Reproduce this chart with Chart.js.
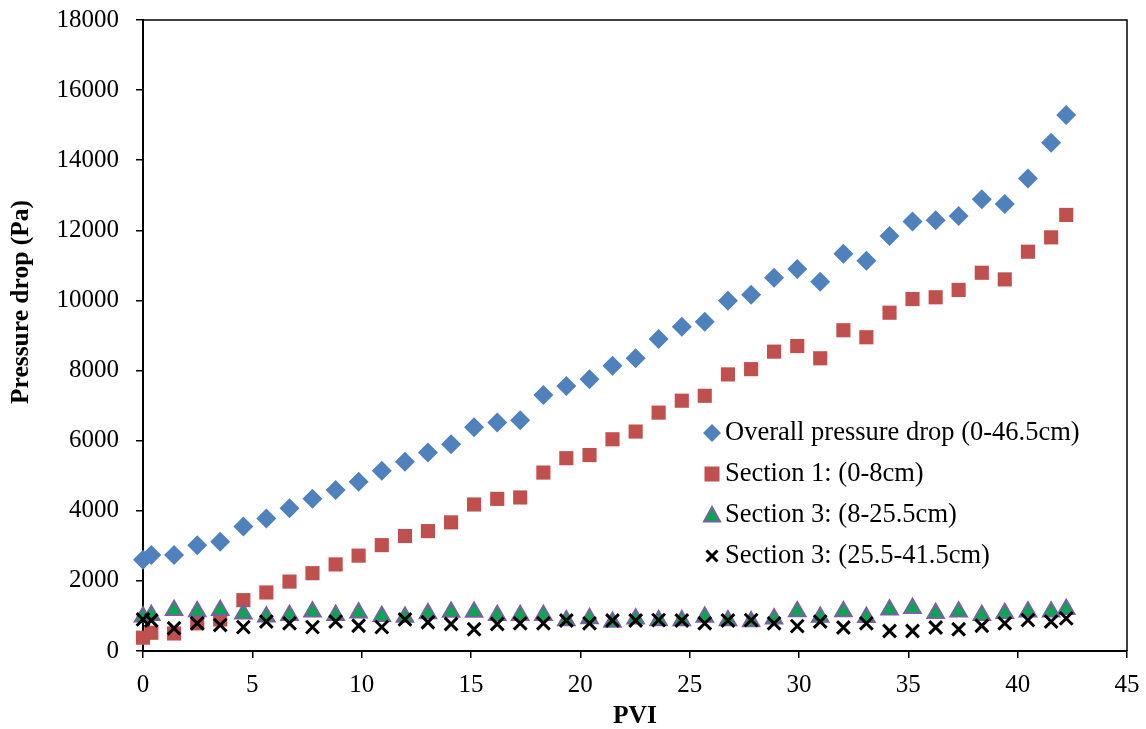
<!DOCTYPE html>
<html>
<head>
<meta charset="utf-8">
<script src="https://cdn.jsdelivr.net/npm/chart.js@4.4.0/dist/chart.umd.min.js"></script>
<style>
html,body{margin:0;padding:0;background:#ffffff;}
#wrap{width:1146px;height:729px;position:relative;}
</style>
</head>
<body>
<div id="wrap"><canvas id="c"></canvas></div>
<script>
// ---- data ----
const pvi = [0, 0.38, 1.42, 2.48, 3.53, 4.59, 5.64, 6.70, 7.75, 8.81, 9.86, 10.92, 11.98, 13.03, 14.09,
  15.14, 16.20, 17.25, 18.31, 19.36, 20.42, 21.47, 22.53, 23.58, 24.64, 25.69, 26.75, 27.81, 28.86,
  29.92, 30.97, 32.03, 33.08, 34.14, 35.19, 36.25, 37.30, 38.36, 39.41, 40.47, 41.53, 42.22];

const overallDrop = [2600, 2740, 2740, 3020, 3120, 3550, 3780, 4070, 4340, 4590, 4830, 5140, 5400, 5660, 5900,
  6380, 6520, 6580, 7300, 7560, 7750, 8140, 8350, 8900, 9250, 9390, 9990, 10160, 10650,
  10900, 10530, 11330, 11130, 11840, 12250, 12290, 12410, 12890, 12750, 13480, 14500, 15290];

const section1Drop = [380, 520, 500, 790, 900, 1450, 1670, 1980, 2220, 2470, 2720, 3020, 3280, 3420, 3670,
  4180, 4340, 4380, 5090, 5500, 5590, 6040, 6260, 6800, 7140, 7280, 7890, 8040, 8540,
  8700, 8350, 9150, 8950, 9650, 10040, 10090, 10300, 10790, 10600, 11390, 11800, 12440];

const section2Drop = [980, 1020, 1160, 1130, 1160, 1060, 980, 1020, 1120, 1020, 1090, 990, 970, 1070, 1110,
  1110, 1020, 1020, 1020, 870, 930, 830, 920, 870, 870, 970, 870, 840, 920,
  1130, 970, 1130, 960, 1180, 1220, 1080, 1120, 1020, 1080, 1120, 1120, 1190];

const section3Drop = [900, 870, 650, 790, 740, 680, 840, 790, 680, 840, 720, 680, 900, 820, 770,
  620, 770, 790, 790, 870, 790, 870, 870, 880, 870, 790, 870, 880, 790,
  710, 840, 670, 790, 570, 570, 670, 620, 720, 790, 880, 840, 930];

const seriesLabels = ['Overall pressure drop (0-46.5cm)', 'Section 1: (0-8cm)',
  'Section 3: (8-25.5cm)', 'Section 3: (25.5-41.5cm)'];
const xTitle = 'PVI';
const yTitle = 'Pressure drop (Pa)';
const xMin = 0, xMax = 45, xStep = 5;
const yMin = 0, yMax = 18000, yStep = 2000;

function pts(ys) { return pvi.map((x, i) => ({x: x, y: ys[i]})); }

const BLUE = '#4F81BD', RED = '#C0504D', GREEN = '#00A850', PURPLE = '#7B5FA0', BLACK = '#000000';
const FONT = "'Liberation Serif', 'Times New Roman', serif";

// custom legend + frame + y title
const extrasPlugin = {
  id: 'extras',
  afterDraw(chart) {
    const ctx = chart.ctx;
    const a = chart.chartArea;
    ctx.save();
    // top & right frame
    ctx.strokeStyle = '#000';
    ctx.lineWidth = 1.5;
    ctx.beginPath();
    ctx.moveTo(a.left, a.top);
    ctx.lineTo(a.right, a.top);
    ctx.lineTo(a.right, a.bottom);
    ctx.stroke();

    // y axis title
    ctx.save();
    ctx.translate(21, 302);
    ctx.rotate(-Math.PI / 2);
    ctx.font = "bold 25.5px " + FONT;
    ctx.fillStyle = '#000';
    ctx.textAlign = 'center';
    ctx.textBaseline = 'middle';
    ctx.fillText(yTitle, 0, 0);
    ctx.restore();

    // legend
    const mx = 712, tx = 725, y0 = 433, dy = 41;
    ctx.font = "26.5px " + FONT;
    ctx.textAlign = 'left';
    ctx.textBaseline = 'middle';
    seriesLabels.forEach((lab, i) => {
      const y = y0 + i * dy;
      ctx.save();
      if (i === 0) {
        ctx.fillStyle = BLUE;
        ctx.beginPath();
        ctx.moveTo(mx, y - 9); ctx.lineTo(mx + 9, y); ctx.lineTo(mx, y + 9); ctx.lineTo(mx - 9, y);
        ctx.closePath(); ctx.fill();
      } else if (i === 1) {
        ctx.fillStyle = RED;
        ctx.fillRect(mx - 7.5, y - 7.5, 15, 15);
      } else if (i === 2) {
        ctx.fillStyle = GREEN; ctx.strokeStyle = PURPLE; ctx.lineWidth = 2;
        ctx.beginPath();
        ctx.moveTo(mx, y - 8); ctx.lineTo(mx + 8, y + 6.5); ctx.lineTo(mx - 8, y + 6.5);
        ctx.closePath(); ctx.fill(); ctx.stroke();
      } else {
        ctx.strokeStyle = BLACK; ctx.lineWidth = 3;
        ctx.beginPath();
        ctx.moveTo(mx - 5.5, y - 5.5); ctx.lineTo(mx + 5.5, y + 5.5);
        ctx.moveTo(mx + 5.5, y - 5.5); ctx.lineTo(mx - 5.5, y + 5.5);
        ctx.stroke();
      }
      ctx.restore();
      ctx.fillStyle = '#000';
      ctx.fillText(lab, tx, y);
    });
    ctx.restore();
  }
};

new Chart(document.getElementById('c'), {
  type: 'scatter',
  data: {
    datasets: [
      { label: seriesLabels[0], data: pts(overallDrop), pointStyle: 'rectRot', pointRadius: 10,
        backgroundColor: BLUE, borderColor: BLUE, borderWidth: 0, order: 3, clip: false },
      { label: seriesLabels[1], data: pts(section1Drop), pointStyle: 'rect', pointRadius: 10,
        backgroundColor: RED, borderColor: RED, borderWidth: 0, order: 2, clip: false },
      { label: seriesLabels[2], data: pts(section2Drop), pointStyle: 'triangle', pointRadius: 9.5,
        backgroundColor: GREEN, borderColor: PURPLE, borderWidth: 2, order: 1, clip: false },
      { label: seriesLabels[3], data: pts(section3Drop), pointStyle: 'crossRot', pointRadius: 9,
        backgroundColor: BLACK, borderColor: BLACK, borderWidth: 3, order: 0, clip: false }
    ]
  },
  options: {
    responsive: true,
    maintainAspectRatio: false,
    animation: false,
    devicePixelRatio: 1,
    layout: { padding: { left: 0, top: 20, right: 19, bottom: 0 } },
    plugins: { legend: { display: false }, tooltip: { enabled: false } },
    elements: { point: { hoverRadius: 10 } },
    scales: {
      x: {
        type: 'linear', min: xMin, max: xMax,
        afterFit(scale) { scale.height = 78; scale.paddingLeft = 0; scale.paddingRight = 0; },
        ticks: { stepSize: xStep, color: '#000', padding: 12, font: { family: FONT, size: 25 },
          callback: v => String(v) },
        grid: { drawOnChartArea: false, drawTicks: true, tickLength: 7, color: '#000', lineWidth: 1.5 },
        border: { display: true, color: '#000', width: 2 },
        title: { display: true, text: xTitle, color: '#000',
          font: { family: FONT, size: 25.5, weight: 'bold', lineHeight: 1 },
          padding: { top: 0, bottom: 0 } }
      },
      y: {
        type: 'linear', min: yMin, max: yMax,
        afterFit(scale) { scale.width = 143; scale.paddingTop = 0; scale.paddingBottom = 0; },
        ticks: { stepSize: yStep, color: '#000', padding: 17, font: { family: FONT, size: 25 },
          callback: v => String(v) },
        grid: { drawOnChartArea: false, drawTicks: true, tickLength: 7, color: '#000', lineWidth: 1.5 },
        border: { display: true, color: '#000', width: 2 },
        title: { display: false }
      }
    }
  },
  plugins: [extrasPlugin]
});
</script>
</body>
</html>
